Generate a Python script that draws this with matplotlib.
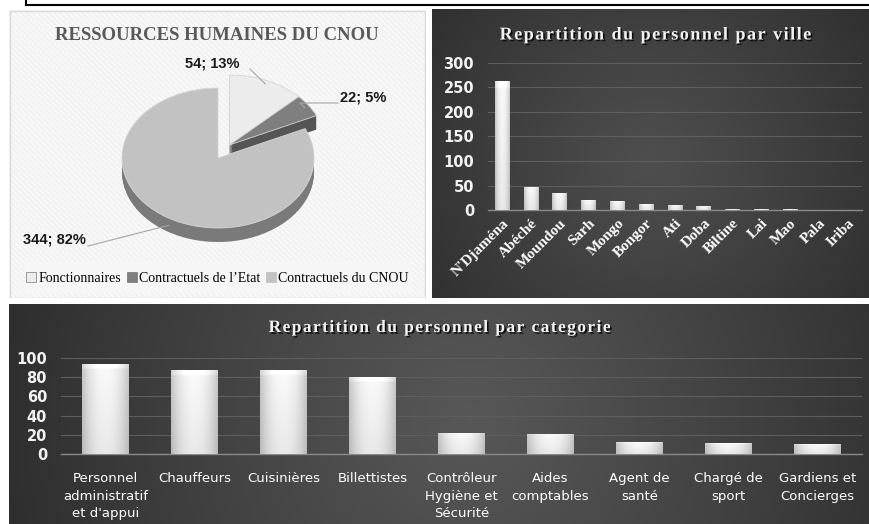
import numpy as np
import matplotlib
matplotlib.use('Agg')
import matplotlib.pyplot as plt
import matplotlib.patches as mpatches
import matplotlib.patheffects as pe
from matplotlib.transforms import Affine2D
from matplotlib.colors import LinearSegmentedColormap

# Data
pie_labels = ['Fonctionnaires', 'Contractuels de l\u2019Etat', 'Contractuels du CNOU']
pie_values = [54, 22, 344]

villes = ["N'Djaména", 'Abéché', 'Moundou', 'Sarh', 'Mongo', 'Bongor', 'Ati',
          'Doba', 'Biltine', 'Lai', 'Mao', 'Pala', 'Iriba']
ville_values = [264, 47, 35, 20, 18, 12, 11, 8, 3, 2, 2, 1, 1]

categories = ['Personnel\nadministratif\net d\'appui', 'Chauffeurs', 'Cuisinières',
              'Billettistes', 'Contrôleur\nHygiène et\nSécurité', 'Aides\ncomptables',
              'Agent de\nsanté', 'Chargé de\nsport', 'Gardiens et\nConcierges']
cat_values = [94, 87, 87, 80, 22, 21, 12, 11, 10]

W, H = 869, 524
fig = plt.figure(figsize=(W / 100, H / 100), dpi=100)
fig.patch.set_facecolor('white')


def box(x0, y0, x1, y1):
    # pixel box (top-left origin) -> figure fraction
    return [x0 / W, 1 - y1 / H, (x1 - x0) / W, (y1 - y0) / H]


def spaced(s):
    return '\u200a'.join(s)


def dark_background(rect, center, c_mid, c_edge):
    ax = fig.add_axes(box(*rect), zorder=0)
    w = rect[2] - rect[0]
    h = rect[3] - rect[1]
    yy, xx = np.mgrid[0:h, 0:w]
    d = np.hypot(xx - (center[0] - rect[0]), yy - (center[1] - rect[1]))
    d = d / d.max()
    cmap = LinearSegmentedColormap.from_list('bg', [c_mid, c_edge])
    ax.imshow(d ** 1.1, cmap=cmap, extent=(0, 1, 0, 1), aspect='auto',
              vmin=0, vmax=1, interpolation='bilinear')
    ax.axis('off')
    return ax


def gradient_bars(ax, bars):
    prof = np.linspace(-1, 1, 60)
    horiz = 0.98 - 0.2 * np.abs(prof) ** 2.2
    vert = np.linspace(0.93, 1.0, 50)[:, None]
    img = horiz[None, :] * vert
    img[-3:, :] = np.minimum(1.0, img[-3:, :] + 0.05)
    for b in bars:
        x0, y0 = b.get_x(), b.get_y()
        im = ax.imshow(img, cmap='gray', vmin=0, vmax=1, aspect='auto',
                       extent=(x0, x0 + b.get_width(), y0, y0 + b.get_height()),
                       origin='lower', interpolation='bilinear', zorder=3)
        im.set_clip_path(b)


def style_bar_axes(ax):
    ax.set_facecolor('none')
    for s in ['top', 'right', 'left']:
        ax.spines[s].set_visible(False)
    ax.spines['bottom'].set_color('#8a8a8a')
    ax.spines['bottom'].set_linewidth(1.0)
    ax.grid(axis='y', color='#5e5e5e', linewidth=0.8)
    ax.set_axisbelow(True)
    ax.tick_params(length=0, colors='white')


# top table border
fig.add_artist(plt.Line2D([26 / W, 1], [1 - 5 / H] * 2, transform=fig.transFigure,
                          color='black', lw=1.5))
fig.add_artist(plt.Line2D([26 / W] * 2, [1, 1 - 5 / H], transform=fig.transFigure,
                          color='black', lw=1.5))

# ---------------- Pie panel ----------------
axp = fig.add_axes(box(9, 10, 426, 298))
axp.set_xlim(9, 426)
axp.set_ylim(298, 10)
axp.axis('off')
axp.add_patch(mpatches.Rectangle((9, 10), 417, 288, facecolor='#f2f2f2',
                                 edgecolor='#fbfbfb', hatch='\\\\\\\\\\\\', lw=0))
axp.add_patch(mpatches.Rectangle((25, 262), 387, 31, facecolor='#f6f6f6',
                                 edgecolor='none'))
axp.add_patch(mpatches.Rectangle((9.5, 10.5), 416, 287, facecolor='none',
                                 edgecolor='#d9d9d9', lw=1))

axp.text(217, 35, 'RESSOURCES HUMAINES DU CNOU', ha='center', va='center',
         fontsize=13.5, fontweight='bold', family='Liberation Serif', color='#595959')

CX, CY, RX, RY, DEPTH = 218, 158, 96, 70, 14
top_colors = ['#ececec', '#7f7f7f', '#c2c2c2']
side_colors = ['#bdbdbd', '#555555', '#7a7a7a']
total = sum(pie_values)
angles = []
a1 = 90.0
for v in pie_values:
    a0 = a1 - 360.0 * v / total
    angles.append((a0, a1))
    a1 = a0
# the two small slices are pulled out together
small_mid = np.radians((angles[0][1] + angles[1][0]) / 2)
exp_d = 0.22
offsets = [(exp_d * np.cos(small_mid), exp_d * np.sin(small_mid))] * 2 + [(0.0, 0.0)]


def ellipse_tf(dx, dy, drop=0.0):
    return Affine2D().scale(RX, -RY).translate(CX + RX * dx, CY - RY * dy + drop) + axp.transData


for k in range(DEPTH, 0, -1):
    for i, (a0, a1) in enumerate(angles):
        w = mpatches.Wedge((0, 0), 1, a0, a1, facecolor=side_colors[i], edgecolor='none',
                           transform=ellipse_tf(*offsets[i], drop=k))
        axp.add_patch(w)
for i, (a0, a1) in enumerate(angles):
    w = mpatches.Wedge((0, 0), 1, a0, a1, facecolor=top_colors[i], edgecolor='#d6d6d6',
                       lw=0.6, transform=ellipse_tf(*offsets[i]))
    axp.add_patch(w)

# data labels with leader lines
label_xy = [(240, 64), (340, 97), (86, 240)]
label_ha = ['right', 'left', 'right']
elbow = [(250, 69), (300, 103), (88, 246)]
for i, v in enumerate(pie_values):
    pct = round(100 * v / total)
    mid = np.radians((angles[i][0] + angles[i][1]) / 2)
    ex = CX + RX * (offsets[i][0] + 0.95 * np.cos(mid))
    ey = CY - RY * (offsets[i][1] + 0.95 * np.sin(mid))
    if i == 2:
        ey += DEPTH * 0.8
    axp.text(label_xy[i][0], label_xy[i][1], f'{v}; {pct}%', ha=label_ha[i], va='center',
             fontsize=10.5, fontweight='bold', family='Liberation Sans', color='#1a1a1a')
    if i == 1:
        axp.plot([label_xy[i][0] - 2, elbow[i][0], ex], [elbow[i][1], elbow[i][1], ey],
                 color='#a6a6a6', lw=0.8)
    else:
        axp.plot([elbow[i][0], ex], [elbow[i][1], ey], color='#a6a6a6', lw=0.8)

handles = [mpatches.Patch(facecolor=top_colors[i], edgecolor='#8c8c8c' if i == 0 else top_colors[i],
                          lw=0.6, label=pie_labels[i]) for i in range(3)]
axp.legend(handles=handles, loc='center', bbox_to_anchor=(0.5, 0.069), ncol=3,
           frameon=False, handlelength=0.75, handleheight=0.75, handletextpad=0.15,
           columnspacing=0.4, prop={'family': 'Liberation Serif', 'size': 10})

# ---------------- City bar chart ----------------
dark_background((432, 9, 869, 298), (650, 160), '#4e4e4e', '#303030')
axc = fig.add_axes(box(488, 63, 862, 210), zorder=1)
xv = np.arange(len(villes))
bars = axc.bar(xv, ville_values, width=0.52, color='#d0d0d0', zorder=3)
gradient_bars(axc, bars)
axc.set_xlim(-0.5, len(villes) - 0.5)
axc.set_ylim(0, 300)
axc.set_yticks(np.arange(0, 301, 50))
style_bar_axes(axc)
axc.tick_params(axis='y', pad=10)
for t in axc.get_yticklabels():
    t.set_fontsize(10.5)
    t.set_fontweight('bold')
    t.set_color('#f2f2f2')
axc.set_xticks(xv)
axc.set_xticklabels(villes, rotation=45, ha='right', rotation_mode='anchor',
                    fontsize=11, fontweight='bold', family='Liberation Serif', color='white')
axc.tick_params(axis='x', pad=5)
fig.text(655 / W, 1 - 35 / H, spaced('Repartition du personnel par ville'), ha='center',
         va='center', fontsize=13, fontweight='bold', color='#f2f2f2',
         family=['Liberation Serif', 'DejaVu Serif'],
         path_effects=[pe.withSimplePatchShadow(offset=(1.2, -1.2), shadow_rgbFace='black', alpha=0.8)])

# ---------------- Category bar chart ----------------
dark_background((9, 304, 869, 524), (470, 420), '#575757', '#2e2e2e')
axk = fig.add_axes(box(61, 358, 862, 454), zorder=1)
xk = np.arange(len(categories))
bars = axk.bar(xk, cat_values, width=0.52, color='#d0d0d0', zorder=3)
gradient_bars(axk, bars)
axk.set_xlim(-0.5, len(categories) - 0.5)
axk.set_ylim(0, 100)
axk.set_yticks(np.arange(0, 101, 20))
style_bar_axes(axk)
axk.tick_params(axis='y', pad=10)
for t in axk.get_yticklabels():
    t.set_fontsize(10.5)
    t.set_fontweight('bold')
    t.set_color('#f2f2f2')
axk.set_xticks(xk)
axk.set_xticklabels(categories, fontsize=9.5, color='white', linespacing=1.45,
                    va='top', ha='center')
axk.tick_params(axis='x', pad=13)
fig.text(441 / W, 1 - 328 / H, spaced('Repartition du personnel par categorie'), ha='center',
         va='center', fontsize=12.5, fontweight='bold', color='#f2f2f2',
         family=['Liberation Serif', 'DejaVu Serif'],
         path_effects=[pe.withSimplePatchShadow(offset=(1.2, -1.2), shadow_rgbFace='black', alpha=0.8)])

fig.savefig('out.png', dpi=100)
